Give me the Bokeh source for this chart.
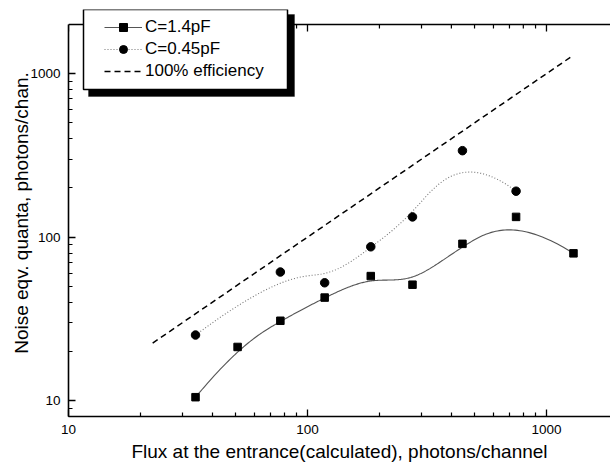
import numpy as np
from bokeh.plotting import figure
from bokeh.models import (Range1d, FixedTicker, BasicTickFormatter, Span,
                          Legend, LegendItem, BoxAnnotation)
from bokeh.embed import file_html
from bokeh.resources import INLINE

# Measured data
flux_14 = [34, 51, 77, 118, 184, 275, 445, 746, 1297]
noise_14 = [10.5, 21.3, 30.8, 42.7, 57.8, 51.2, 91, 133, 79.6]

flux_045 = [34, 77, 118, 184, 275, 445, 746]
noise_045 = [25.2, 61.2, 52.6, 87.3, 133, 338, 191]

# Ideal detector: noise quanta equal to incoming flux
ideal_flux = [22.5, 1290]

x_major = [10, 100, 1000]
x_minor = [m * 10 ** e for e in (1, 2) for m in range(2, 10)]
y_major = [10, 100, 1000]
y_minor = [8, 9] + [m * 10 ** e for e in (1, 2) for m in range(2, 10)]
y_lo, y_hi = 8, 2000

FONT = "Liberation Sans"


def bspline_loglog(xs, ys, n=300, k=3):
    """Clamped cubic B-spline using the points as control points (log-log space)."""
    P = np.column_stack([np.log10(xs), np.log10(ys)])
    m = len(P)
    knots = np.concatenate([np.zeros(k), np.linspace(0, 1, m - k + 1), np.ones(k)])
    out = []
    for t in np.linspace(0, 1, n):
        s = min(np.searchsorted(knots, t, side="right") - 1, m - 1)
        d = [P[j + s - k].copy() for j in range(k + 1)]
        for r in range(1, k + 1):
            for j in range(k, r - 1, -1):
                i = j + s - k
                den = knots[i + k + 1 - r] - knots[i]
                a = 0.0 if den == 0 else (t - knots[i]) / den
                d[j] = (1 - a) * d[j - 1] + a * d[j]
        out.append(d[k])
    out = np.array(out)
    return 10 ** out[:, 0], 10 ** out[:, 1]


# Frame reaches up to the legend's top edge; the plotted box stops at y_hi.
PX_PER_DECADE_Y = 163.5
y_top = y_lo * 10 ** (407 / PX_PER_DECADE_Y)

p = figure(width=610, height=467, x_axis_type="log", y_axis_type="log",
           x_range=Range1d(10, 1853), y_range=Range1d(y_lo, y_top),
           output_backend="svg", toolbar_location=None,
           min_border_left=68, min_border_right=0, min_border_top=9,
           min_border_bottom=51)
p.outline_line_color = None
p.xgrid.visible = False
p.ygrid.visible = False
p.background_fill_color = "white"
p.border_fill_color = "white"


def style_axis(ax):
    ax.axis_line_width = 1.6
    ax.axis_line_color = "black"
    ax.major_tick_in = 7
    ax.major_tick_out = 0
    ax.minor_tick_in = 4
    ax.minor_tick_out = 0
    ax.major_tick_line_width = 1.3
    ax.minor_tick_line_width = 1.2
    ax.major_tick_line_color = "black"
    ax.minor_tick_line_color = "black"
    ax.formatter = BasicTickFormatter()
    ax.major_label_text_font = FONT
    ax.major_label_text_font_size = "13.5px"
    ax.major_label_text_color = "black"
    ax.axis_label_text_font = FONT
    ax.axis_label_text_font_style = "normal"
    ax.axis_label_text_color = "black"


xa = p.xaxis[0]
xa.ticker = FixedTicker(ticks=x_major, minor_ticks=x_minor)
style_axis(xa)
xa.major_label_standoff = 8
xa.axis_label = "Flux at the entrance(calculated), photons/channel"
xa.axis_label_text_font_size = "19px"
xa.axis_label_standoff = 4

ya = p.yaxis[0]
ya.ticker = FixedTicker(ticks=y_major, minor_ticks=y_minor)
ya.bounds = (y_lo, y_hi)
style_axis(ya)
ya.major_label_standoff = 8
ya.axis_label = "Noise eqv. quanta, photons/chan."
ya.axis_label_text_font_size = "19px"
ya.axis_label_standoff = -5

# Top frame edge with inward ticks
p.add_layout(Span(location=y_hi, dimension="width", line_color="black",
                  line_width=1.6))
maj_end = y_hi * 10 ** (-7 / PX_PER_DECADE_Y)
min_end = y_hi * 10 ** (-4 / PX_PER_DECADE_Y)
p.segment(x0=x_major, y0=[y_hi] * len(x_major), x1=x_major,
          y1=[maj_end] * len(x_major), line_color="black", line_width=1.3)
p.segment(x0=x_minor, y0=[y_hi] * len(x_minor), x1=x_minor,
          y1=[min_end] * len(x_minor), line_color="black", line_width=1.2)

# 100% efficiency reference line
r_ideal = p.line(ideal_flux, ideal_flux, line_color="black", line_width=1.5,
                 line_dash="6 4")

# C = 0.45 pF
cx, cy = bspline_loglog(flux_045, noise_045)
r_l045 = p.line(cx, cy, line_color="#777777", line_width=1.1, line_dash="1 2")
r_s045 = p.scatter(flux_045, noise_045, marker="circle", size=8.5,
                   fill_color="black", line_color="black")

# C = 1.4 pF
sx, sy = bspline_loglog(flux_14, noise_14)
r_l14 = p.line(sx, sy, line_color="#555555", line_width=1.1)
r_s14 = p.scatter(flux_14, noise_14, marker="square", size=7.5,
                  fill_color="black", line_color="black")

# Legend frame with drop shadow
shadow = BoxAnnotation(left=88, right=294, top=14, bottom=96,
                       left_units="canvas", right_units="canvas",
                       top_units="canvas", bottom_units="canvas",
                       fill_color="black", fill_alpha=1.0, line_color="black")
box = BoxAnnotation(left=83, right=287, top=9, bottom=89,
                    left_units="canvas", right_units="canvas",
                    top_units="canvas", bottom_units="canvas",
                    fill_color="white", fill_alpha=1.0, line_color="black",
                    line_width=1.5, line_alpha=1.0)
p.add_layout(shadow)
p.add_layout(box)

legend = Legend(items=[
    LegendItem(label="C=1.4pF", renderers=[r_l14, r_s14]),
    LegendItem(label="C=0.45pF", renderers=[r_l045, r_s045]),
    LegendItem(label="100% efficiency", renderers=[r_ideal]),
], location=(36, 335))
legend.padding = 0
legend.margin = 0
legend.spacing = 2
legend.glyph_width = 38
legend.glyph_height = 20
legend.label_height = 20
legend.label_standoff = 3
legend.border_line_color = None
legend.background_fill_alpha = 0
legend.label_text_font = FONT
legend.label_text_font_size = "17px"
legend.label_text_color = "black"
p.add_layout(legend)

open("out.html", "w").write(file_html(p, INLINE))
